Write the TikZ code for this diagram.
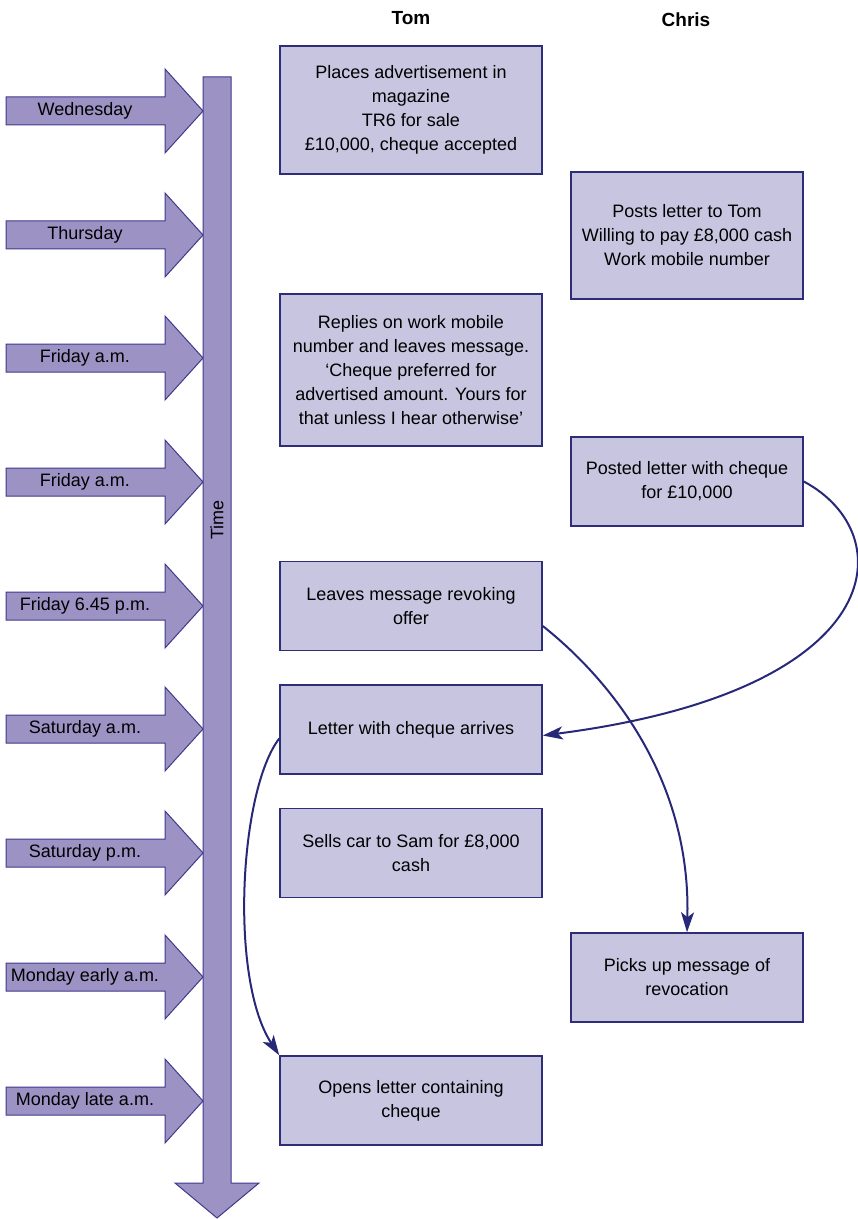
\documentclass[tikz,border=0pt]{standalone}
\usepackage{fontspec}
\setmainfont{Liberation Sans}
\usetikzlibrary{arrows.meta}

\definecolor{boxfill}{RGB}{200,197,225}
\definecolor{boxline}{RGB}{45,45,120}
\definecolor{arrowfill}{RGB}{156,147,196}
\definecolor{arrowline}{RGB}{62,58,142}
\definecolor{linkcol}{RGB}{40,40,120}

\begin{document}
\begin{tikzpicture}[
        x=0.5pt, y=-0.5pt,
        event/.style={draw=boxline, line width=0.75pt, fill=boxfill, align=center, font=\fontsize{9}{12}\selectfont, minimum height=44.5pt},
        tomev/.style={event, minimum width=131pt},
        chrisev/.style={event, minimum width=116pt},
        dayarrow/.style={draw=arrowline, line width=0.5pt, fill=arrowfill},
        daylabel/.style={font=\fontsize{9}{11}\selectfont},
        header/.style={font=\bfseries\fontsize{9.5}{11}\selectfont},
        link/.style={draw=linkcol, line width=1pt, -{Stealth[length=10pt, width=6.5pt, inset=2.5pt]}}
    ]
        \useasboundingbox (0,0) rectangle (857,1219);

        % Days
        \foreach \y/\day [count=\i] in {111/Wednesday, 235/Thursday, 358/Friday a.m., 482/Friday a.m.,
            606/Friday 6.45 p.m., 729/Saturday a.m., 853/Saturday p.m., 977/Monday early a.m., 1101/Monday late a.m.} {
            \draw[dayarrow] (6,{\y-14}) -- (165,{\y-14}) -- (165,{\y-42}) -- (203,\y)
                -- (165,{\y+42}) -- (165,{\y+14}) -- (6,{\y+14}) -- cycle;
            \node[daylabel] (day\i) at (85,\y) {\day};
        }

        % Time axis
        \draw[dayarrow] (203,77) -- (231,77) -- (231,1183) -- (259,1183) -- (217,1218)
            -- (175,1183) -- (203,1183) -- cycle;
        \node[daylabel, rotate=90] (time) at (217,520) {Time};

        % Headers
        \node[header] (tom) at (411,18) {Tom};
        \node[header] (chris) at (686,20) {Chris};

        % Events
        \node[tomev, minimum height=64pt] (advert) at (411,110) {Places advertisement in\\magazine\\TR6 for sale\\£10,000, cheque accepted};
        \node[chrisev, minimum height=63.5pt] (posts) at (687,235.5) {Posts letter to Tom\\Willing to pay £8,000 cash\\Work mobile number};
        \node[tomev, minimum height=76pt] (replies) at (411,370) {Replies on work mobile\\number and leaves message.\\‘Cheque preferred for\\advertised amount. Yours for\\that unless I hear otherwise’};
        \node[chrisev] (posted) at (687,481.5) {Posted letter with cheque\\for £10,000};
        \node[tomev] (revoke) at (411,606) {Leaves message revoking\\offer};
        \node[tomev] (arrives) at (411,729.5) {Letter with cheque arrives};
        \node[tomev] (sells) at (411,853) {Sells car to Sam for £8,000\\cash};
        \node[chrisev] (pickup) at (687,977.5) {Picks up message of\\revocation};
        \node[tomev] (opens) at (411,1100.5) {Opens letter containing\\cheque};

        % Links
        \draw[link] (posted.east) .. controls +(98,52) and +(350,-45) .. ([yshift=-3pt]arrives.east);
        \draw[link] ([yshift=-10pt]revoke.east) .. controls +(68,54) and +(4,-153) .. (pickup.north);
        \draw[link] ([yshift=-4.5pt]arrives.west) .. controls +(-40,52) and +(-50,-76) .. (opens.north west);
    \end{tikzpicture}
\end{document}
